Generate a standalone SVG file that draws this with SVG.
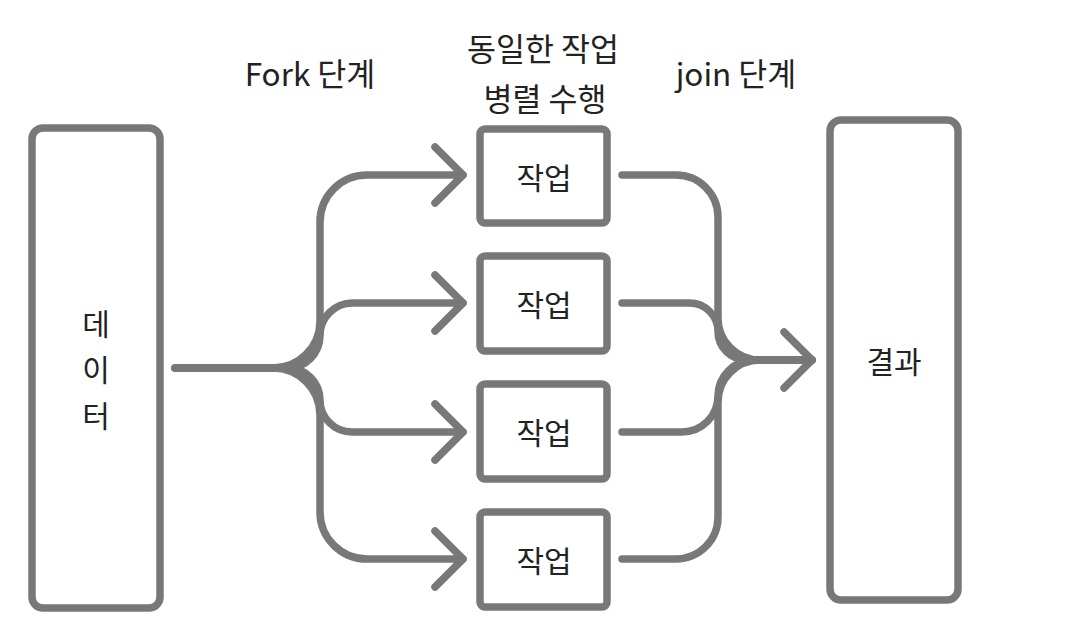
<svg xmlns="http://www.w3.org/2000/svg" width="1088" height="640" viewBox="0 0 1088 640">
<style>
.box{fill:#fff;stroke:#787878;stroke-width:7.5}
.wire{fill:none;stroke:#787878;stroke-width:7.5;stroke-linecap:round;stroke-linejoin:round}
.t{font-family:"Noto Sans CJK KR","Noto Sans",sans-serif;font-size:30px;fill:#222;text-anchor:middle;dominant-baseline:central}
.h{font-size:31.5px}
</style>
<defs>
<marker id="arr" markerUnits="userSpaceOnUse" markerWidth="40" markerHeight="70" refX="0" refY="0" orient="auto" style="overflow:visible">
<path d="M-28,-28 L0,0 L-28,28" fill="none" stroke="#787878" stroke-width="7.5" stroke-linecap="round" stroke-linejoin="round"/>
</marker>
</defs>
<rect width="1088" height="640" fill="#fff"/>
<g id="labels">
<text class="t h" x="310" y="72">Fork 단계</text>
<text class="t h" x="543" y="47">동일한 작업</text>
<text class="t h" x="545" y="97">병렬 수행</text>
<text class="t h" x="736" y="72">join 단계</text>
</g>
<g id="data">
<rect class="box" x="32" y="128" width="128" height="480" rx="11"/>
<text class="t" x="96" y="322">데</text>
<text class="t" x="96" y="368">이</text>
<text class="t" x="96" y="414">터</text>
</g>
<g id="task1"><rect class="box" x="480" y="129" width="127" height="94" rx="5"/><text class="t" x="544" y="176">작업</text></g>
<g id="task2"><rect class="box" x="480" y="256" width="127" height="95" rx="5"/><text class="t" x="544" y="303">작업</text></g>
<g id="task3"><rect class="box" x="480" y="384" width="127" height="95" rx="5"/><text class="t" x="544" y="431">작업</text></g>
<g id="task4"><rect class="box" x="480" y="512" width="127" height="95" rx="5"/><text class="t" x="544" y="559">작업</text></g>
<g id="result">
<rect class="box" x="830" y="120" width="128" height="480" rx="11"/>
<text class="t" x="894" y="360">결과</text>
</g>
<g id="connectors">
<path class="wire" marker-end="url(#arr)" d="M175 368 H273 A47 47 0 0 0 320 321 V222 A47 47 0 0 1 367 175 H463"/>
<path class="wire" marker-end="url(#arr)" d="M175 368 H287.5 A32.5 32.5 0 0 0 320 335.5 A32.5 32.5 0 0 1 352.5 303 H463"/>
<path class="wire" marker-end="url(#arr)" d="M175 368 H288 A32 32 0 0 1 320 400 A32 32 0 0 0 352 432 H463"/>
<path class="wire" marker-end="url(#arr)" d="M175 368 H273 A47 47 0 0 1 320 415 V512 A47 47 0 0 0 367 559 H463"/>
<path class="wire" d="M622 175 H676 A42 42 0 0 1 718 217 V318 A42 42 0 0 0 760 360 H812"/>
<path class="wire" d="M622 303 H689.5 A28.5 28.5 0 0 1 718 331.5 A28.5 28.5 0 0 0 746.5 360 H812"/>
<path class="wire" d="M622 432 H682 A36 36 0 0 0 718 396 A36 36 0 0 1 754 360 H812"/>
<path class="wire" marker-end="url(#arr)" d="M622 559 H676 A42 42 0 0 0 718 517 V402 A42 42 0 0 1 760 360 H812"/>
</g>
</svg>
